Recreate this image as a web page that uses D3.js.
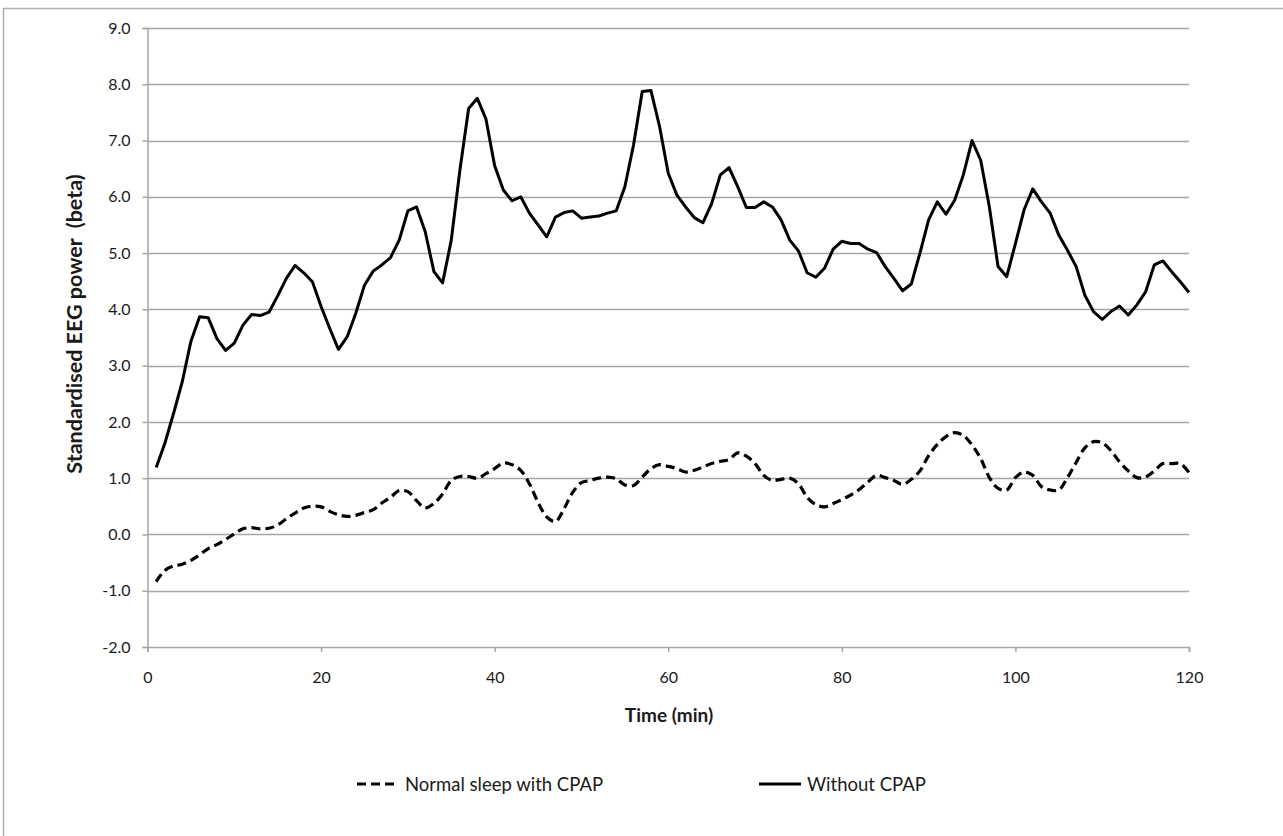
<!DOCTYPE html>
<html>
<head>
<meta charset="utf-8">
<script src="https://cdn.jsdelivr.net/npm/d3@7"></script>
<style>
    body { margin: 0; background: #fff; }
    svg text { font-family: Lato, "Open Sans", sans-serif; fill: #1a1a1a; }
</style>
</head>
<body>
<svg id="chart" width="1283" height="836"></svg>
<script>
// --------------------------------------------------------------------------------------------------------------------------------------
// Data (one value per minute, 1..120)

const minutes = d3.range(1, 121);

const withoutCpap = [
    1.19, 1.62, 2.15, 2.71, 3.43, 3.87, 3.85, 3.48, 3.27, 3.40,
    3.72, 3.91, 3.89, 3.95, 4.24, 4.55, 4.78, 4.65, 4.49, 4.05,
    3.66, 3.29, 3.51, 3.93, 4.43, 4.68, 4.79, 4.92, 5.23, 5.75,
    5.82, 5.38, 4.67, 4.47, 5.23, 6.48, 7.57, 7.75, 7.38, 6.55,
    6.12, 5.93, 6.00, 5.71, 5.50, 5.29, 5.64, 5.72, 5.75, 5.62,
    5.64, 5.66, 5.71, 5.75, 6.18, 6.92, 7.87, 7.89, 7.25, 6.42,
    6.03, 5.82, 5.63, 5.54, 5.88, 6.39, 6.52, 6.18, 5.81, 5.81,
    5.91, 5.82, 5.59, 5.23, 5.04, 4.65, 4.57, 4.73, 5.07, 5.21,
    5.17, 5.17, 5.07, 5.01, 4.76, 4.55, 4.33, 4.45, 5.00, 5.59,
    5.91, 5.69, 5.94, 6.39, 7.00, 6.65, 5.82, 4.76, 4.58, 5.17,
    5.77, 6.14, 5.91, 5.71, 5.32, 5.05, 4.76, 4.25, 3.96, 3.82,
    3.96, 4.06, 3.90, 4.08, 4.31, 4.79, 4.86, 4.67, 4.49, 4.30
];

const normalSleepCpap = [
    -0.84, -0.64, -0.56, -0.53, -0.46, -0.36, -0.25, -0.18, -0.09, 0.01,
    0.10, 0.12, 0.10, 0.11, 0.17, 0.28, 0.38, 0.47, 0.50, 0.49,
    0.41, 0.35, 0.32, 0.34, 0.39, 0.44, 0.56, 0.66, 0.78, 0.76,
    0.60, 0.47, 0.55, 0.72, 0.96, 1.03, 1.03, 1.00, 1.08, 1.17,
    1.27, 1.24, 1.14, 0.90, 0.57, 0.31, 0.23, 0.46, 0.75, 0.92,
    0.96, 1.00, 1.02, 0.99, 0.88, 0.87, 1.02, 1.17, 1.24, 1.21,
    1.17, 1.11, 1.14, 1.20, 1.26, 1.30, 1.33, 1.45, 1.39, 1.26,
    1.05, 0.96, 0.98, 1.00, 0.90, 0.66, 0.53, 0.49, 0.55, 0.62,
    0.70, 0.80, 0.93, 1.05, 1.01, 0.96, 0.89, 0.98, 1.13, 1.40,
    1.60, 1.74, 1.81, 1.76, 1.59, 1.35, 1.01, 0.82, 0.79, 1.01,
    1.11, 1.05, 0.85, 0.79, 0.79, 1.01, 1.28, 1.54, 1.65, 1.63,
    1.49, 1.29, 1.13, 1.01, 1.02, 1.13, 1.26, 1.26, 1.26, 1.10
];

const xTicks = [0, 20, 40, 60, 80, 100, 120];
const yTicks = [-2, -1, 0, 1, 2, 3, 4, 5, 6, 7, 8, 9];

const seriesNames = ["Normal sleep with CPAP", "Without CPAP"];

// --------------------------------------------------------------------------------------------------------------------------------------
// Layout

const svg = d3.select("#chart");
const plotLeft = 147.5, plotTop = 28, plotRight = 1189, plotBottom = 647;
const gridColor = "#a6a6a6";

const x = d3.scaleLinear().domain([0, 120]).range([plotLeft, plotRight]);
const y = d3.scaleLinear().domain([-2, 9]).range([plotBottom, plotTop]);

// outer frame of the chart object
svg.append("rect")
    .attr("x", 3.5).attr("y", 8.5)
    .attr("width", 1300).attr("height", 850)
    .attr("fill", "none")
    .attr("stroke", "#b0b0b0")
    .attr("stroke-width", 1.5);

// horizontal gridlines
svg.append("g")
    .selectAll("line")
    .data(yTicks.filter(d => d > -2))
    .join("line")
    .attr("x1", plotLeft).attr("x2", plotRight)
    .attr("y1", d => Math.round(y(d)) + 0.5)
    .attr("y2", d => Math.round(y(d)) + 0.5)
    .attr("stroke", gridColor)
    .attr("stroke-width", 1.5);

// y axis
const yAxis = svg.append("g")
    .attr("transform", `translate(${plotLeft},0)`)
    .call(d3.axisLeft(y).tickValues(yTicks).tickFormat(d => d.toFixed(1)).tickSize(5).tickPadding(12));

// x axis
const xAxis = svg.append("g")
    .attr("transform", `translate(0,${plotBottom})`)
    .call(d3.axisBottom(x).tickValues(xTicks).tickSize(5).tickPadding(20));

[yAxis, xAxis].forEach(g => {
    g.select(".domain").attr("stroke", gridColor).attr("stroke-width", 1.5);
    g.selectAll(".tick line").attr("stroke", gridColor).attr("stroke-width", 1.5);
    g.selectAll(".tick text")
        .style("font-family", "Lato, 'Open Sans', sans-serif")
        .style("font-size", "16px")
        .attr("fill", "#1a1a1a");
});

// axis titles
svg.append("text")
    .attr("transform", "translate(82,324) rotate(-90)")
    .attr("text-anchor", "middle")
    .attr("xml:space", "preserve")
    .style("white-space", "pre")
    .style("font-size", "21.5px")
    .style("font-weight", "bold")
    .text("Standardised EEG power  (beta)");

svg.append("text")
    .attr("x", 669).attr("y", 722)
    .attr("text-anchor", "middle")
    .style("font-size", "19px")
    .style("font-weight", "bold")
    .text("Time (min)");

// --------------------------------------------------------------------------------------------------------------------------------------
// Lines

const solidLine = d3.line()
    .x((d, i) => x(minutes[i]))
    .y(d => y(d));

const smoothLine = d3.line()
    .x((d, i) => x(minutes[i]))
    .y(d => y(d))
    .curve(d3.curveCatmullRom.alpha(0.5));

svg.append("path")
    .datum(normalSleepCpap)
    .attr("d", smoothLine)
    .attr("fill", "none")
    .attr("stroke", "#000")
    .attr("stroke-width", 3.2)
    .attr("stroke-dasharray", "9,5");

svg.append("path")
    .datum(withoutCpap)
    .attr("d", solidLine)
    .attr("fill", "none")
    .attr("stroke", "#000")
    .attr("stroke-width", 3)
    .attr("stroke-linejoin", "round");

// --------------------------------------------------------------------------------------------------------------------------------------
// Legend

const legend = svg.append("g");
const legendItems = [
    { name: seriesNames[0], x0: 357, dash: "9,5" },
    { name: seriesNames[1], x0: 759, dash: null }
];

legendItems.forEach(item => {
    legend.append("line")
        .attr("x1", item.x0).attr("x2", item.x0 + 42)
        .attr("y1", 784).attr("y2", 784)
        .attr("stroke", "#000")
        .attr("stroke-width", 3)
        .attr("stroke-dasharray", item.dash);
    legend.append("text")
        .attr("x", item.x0 + 48).attr("y", 791)
        .style("font-size", "18.5px")
        .text(item.name);
});
</script>
</body>
</html>
